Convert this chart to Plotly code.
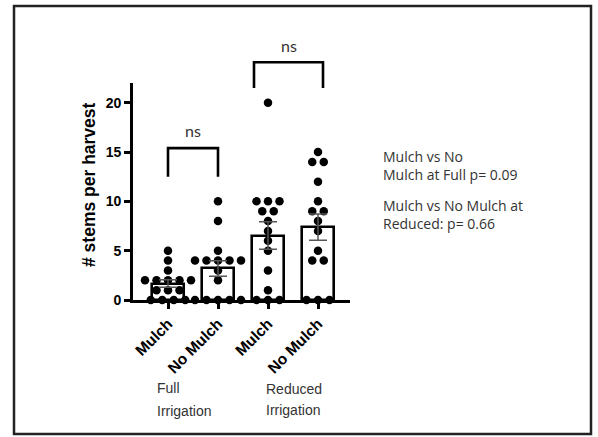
import plotly.graph_objects as go
import numpy as np

# ---------------- data ----------------
categories = ["Mulch", "No Mulch", "Mulch", "No Mulch"]
full_mulch = [5, 4, 3, 2, 2, 2, 2, 2, 1, 1, 1, 0, 0, 0, 0]
full_nomulch = [10, 8, 5, 4, 4, 4, 4, 4, 3, 2, 0, 0, 0, 0, 0]
reduced_mulch = [20, 10, 10, 10, 9, 9, 8, 7, 6, 5, 3, 1, 0, 0, 0]
reduced_nomulch = [15, 14, 14, 12, 10, 9, 9, 8, 7, 5, 4, 4, 0, 0, 0]
groups = [full_mulch, full_nomulch, reduced_mulch, reduced_nomulch]
y_ticks = [0, 5, 10, 15, 20]
y_title = "# stems per harvest"
group_labels = [["Full", "Irrigation"], ["Reduced", "Irrigation"]]
sig_labels = ["ns", "ns"]
note_blocks = [["Mulch vs No", "Mulch at Full p= 0.09"], ["Mulch vs No Mulch at", "Reduced: p= 0.66"]]
# brackets: (x_left, x_right, y_leg_bottom, y_top)
bracket_1 = [0.0, 1.0, 12.5, 15.4]
bracket_2 = [1.72, 3.1, 21.5, 24.1]

# ---------------- layout geometry ----------------
W, H = 598, 437
L, R, T, B = 133, 248, 83, 137
PW, PH = W - L - R, H - T - B
YMAX = 22
XMIN = -0.7
XMAX = XMIN + PW / 50.0


def px_x(px):
    return (px - L) / PW


def px_y(py):
    return (H - B - py) / PH


means = [float(np.mean(g)) for g in groups]
sems = [float(np.std(g, ddof=1) / np.sqrt(len(g))) for g in groups]
xpos = list(range(len(groups)))

fig = go.Figure()

# bars
fig.add_trace(go.Bar(
    x=xpos, y=means, width=0.64,
    marker=dict(color="white", line=dict(color="black", width=2.6)),
    showlegend=False, hoverinfo="skip",
))

# points (swarm offsets computed from equal values)
spacing = 0.23
for i, g in enumerate(groups):
    vals = sorted(g, reverse=True)
    xs, ys = [], []
    for v in sorted(set(vals), reverse=True):
        k = vals.count(v)
        for j in range(k):
            xs.append(i + (j - (k - 1) / 2) * spacing)
            ys.append(v)
    fig.add_trace(go.Scatter(
        x=xs, y=ys, mode="markers",
        marker=dict(color="black", size=8.5, line=dict(width=0)),
        cliponaxis=False, showlegend=False, hoverinfo="skip",
    ))

# error bars (SEM) drawn on top
fig.add_trace(go.Scatter(
    x=xpos, y=means, mode="markers",
    marker=dict(size=1, color="rgba(0,0,0,0)"),
    error_y=dict(type="data", array=sems, visible=True, color="#555555",
                 thickness=1.5, width=9),
    cliponaxis=False, showlegend=False, hoverinfo="skip",
))

# significance brackets
for br, lab in zip([bracket_1, bracket_2], sig_labels):
    xl, xr, yb, yt = br
    fig.add_shape(type="path", xref="x", yref="paper",
                  path=f"M {xl},{yb / YMAX} L {xl},{yt / YMAX} L {xr},{yt / YMAX} L {xr},{yb / YMAX}",
                  line=dict(color="black", width=2.6))
    fig.add_annotation(x=(xl + xr) / 2, y=(yt + 1.75) / YMAX, xref="x", yref="paper",
                       text=lab, showarrow=False, xanchor="center", yanchor="middle",
                       font=dict(family="Lato", size=16, color="#333333"))

# y title
fig.add_annotation(x=px_x(89), y=px_y(185), xref="paper", yref="paper",
                   text=f"<b>{y_title}</b>", textangle=-90, showarrow=False,
                   xanchor="center", yanchor="middle",
                   font=dict(family="Liberation Sans, Arial", size=17.5, color="black"))

# group labels
for (l1, l2), xl, ys in zip(group_labels, [155, 264], [(388, 411), (389, 410)]):
    for txt, yy in zip([l1, l2], ys):
        fig.add_annotation(x=px_x(xl), y=px_y(yy), xref="paper", yref="paper",
                           text=txt, showarrow=False, xanchor="left", yanchor="middle",
                           font=dict(family="Liberation Sans, Arial", size=14, color="#333333"))

# notes
for lines, yy in zip(note_blocks, [165, 214]):
    fig.add_annotation(x=px_x(381), y=px_y(yy), xref="paper", yref="paper",
                       text="<br>".join(lines), showarrow=False, align="left",
                       xanchor="left", yanchor="middle",
                       font=dict(family="Open Sans", size=14, color="#333333"))

# outer border
fig.add_shape(type="rect", xref="paper", yref="paper",
              x0=px_x(14), x1=px_x(591), y0=px_y(434), y1=px_y(6),
              line=dict(color="#222222", width=2.5), fillcolor="rgba(0,0,0,0)")

fig.update_layout(
    width=W, height=H,
    margin=dict(l=L, r=R, t=T, b=B, pad=0),
    paper_bgcolor="white", plot_bgcolor="white",
    bargap=0, showlegend=False,
    xaxis=dict(range=[XMIN, XMAX], tickvals=xpos,
               ticktext=[f"<b>{c}</b>" for c in categories],
               tickangle=-45, showgrid=False, zeroline=False,
               showline=True, linecolor="black", linewidth=2.6,
               ticks="outside", ticklen=6, tickwidth=2.6, tickcolor="black",
               tickfont=dict(family="Liberation Sans, Arial", size=15.5, color="black")),
    yaxis=dict(range=[0, YMAX], tickvals=y_ticks,
               ticktext=[f"<b>{v}</b>" for v in y_ticks],
               showgrid=False, zeroline=False,
               showline=True, linecolor="black", linewidth=2.6,
               ticks="outside", ticklen=6, tickwidth=2.6, tickcolor="black",
               tickfont=dict(family="Liberation Sans, Arial", size=14, color="black")),
)

fig.write_html("out.html", config={"displayModeBar": False},
               post_script="document.body.style.margin='0';document.body.style.overflow='hidden';")
